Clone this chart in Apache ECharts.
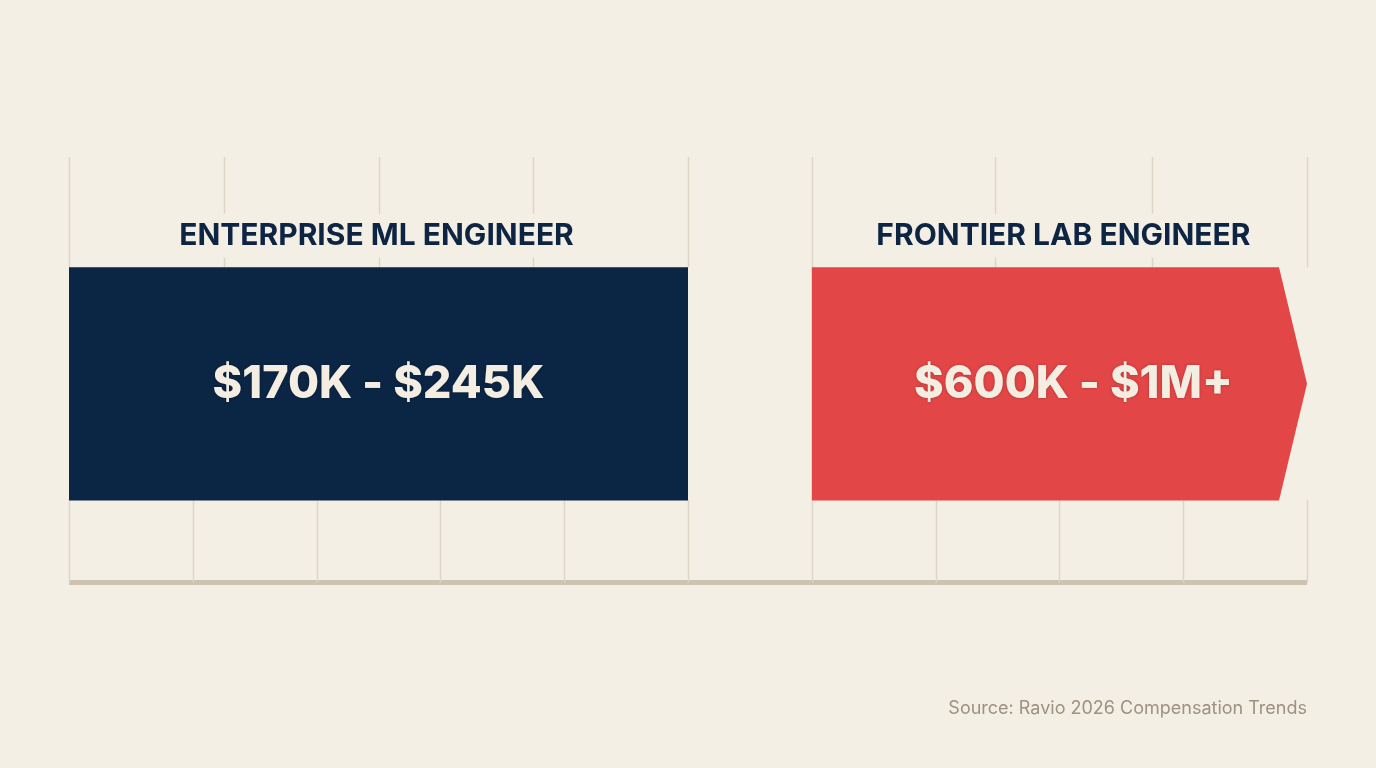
<!DOCTYPE html>
<html><head><meta charset="utf-8">
<script src="https://cdn.jsdelivr.net/npm/echarts@6/dist/echarts.min.js"></script>
<style>html,body{margin:0;padding:0;background:#f3efe4;} #c{width:1376px;height:768px;}</style>
</head><body><div id="c"></div>
<script>
// ---- data ----
const categories = ['ENTERPRISE ML ENGINEER', 'FRONTIER LAB ENGINEER'];
const rangeLabels = ['$170K - $245K', '$600K - $1M+'];
const salaryLow = [170, 600];    // $K
const salaryHigh = [245, 1000];  // $K (open-ended "1M+")
const openEnded = [false, true];
const barStart = [0, 6];         // position on the decorative axis
const barEnd = [5, 10];
const bottomTicks = [0, 1, 2, 3, 4, 5, 6, 7, 8, 9, 10];
const topTicks = [0, 1.25, 2.5, 3.75, 5, 6, 7.48, 8.75, 10];
const sourceText = 'Source: Ravio 2026 Compensation Trends';

// ---- styling / layout constants ----
const BG = '#f3efe4';
const barColors = ['#0b2545', '#e34646'];
const GRID_COLOR = '#ddd5c5';
const BAR_BOTTOM = 19.3, BAR_TOP = 74.1, TITLE_Y = 81.5, TOP = 100;
const ARROW = 28;
const FONT = 'Inter, "Noto Sans", sans-serif';

const chart = echarts.init(document.getElementById('c'), null, {renderer: 'canvas'});

function lineItem(y0, y1) {
  return function (params, api) {
    const t = api.value(0);
    const a = api.coord([t, y0]);
    const b = api.coord([t, y1]);
    return {type: 'line', shape: {x1: Math.round(a[0]) + 0.5, y1: a[1], x2: Math.round(b[0]) + 0.5, y2: b[1]},
            style: {stroke: GRID_COLOR, lineWidth: 1.5}};
  };
}

const barData = categories.map((c, i) => [barStart[i], barEnd[i], i]);

chart.setOption({
  backgroundColor: BG,
  animation: false,
  grid: {left: 69, right: 69, top: 157, bottom: 185.5},
  xAxis: {type: 'value', min: 0, max: 10, interval: 1,
    axisLine: {show: true, lineStyle: {color: '#cec3b1', width: 5, cap: 'butt'}},
    axisTick: {show: false}, axisLabel: {show: false}, splitLine: {show: false}},
  yAxis: {type: 'value', min: 0, max: TOP, show: false, splitLine: {show: false}},
  series: [
    {type: 'custom', z: 1, data: bottomTicks.map(t => [t]), renderItem: lineItem(0, BAR_BOTTOM), silent: true},
    {type: 'custom', z: 1, data: topTicks.map(t => [t]), renderItem: lineItem(BAR_TOP, TOP), silent: true},
    {type: 'custom', z: 3, data: barData, silent: true,
      renderItem: function (params, api) {
        const i = api.value(2);
        const p0 = api.coord([api.value(0), BAR_TOP]);
        const p1 = api.coord([api.value(1), BAR_BOTTOM]);
        const x0 = p0[0], x1 = p1[0], yt = p0[1], yb = p1[1], ym = (yt + yb) / 2;
        let pts;
        if (openEnded[i]) {
          pts = [[x0, yt], [x1 - ARROW, yt], [x1, ym], [x1 - ARROW, yb], [x0, yb]];
        } else {
          pts = [[x0, yt], [x1, yt], [x1, yb], [x0, yb]];
        }
        const cx = (x0 + x1) / 2 + (openEnded[i] ? ARROW / 2 : 0);
        const tp = api.coord([(api.value(0) + api.value(1)) / 2, TITLE_Y]);
        return {type: 'group', children: [
          {type: 'polygon', shape: {points: pts}, style: {fill: barColors[i]}},
          {type: 'text', x: cx, y: ym + 1, style: {
            text: rangeLabels[i], fill: '#f3ede2', align: 'center', verticalAlign: 'middle',
            font: '800 45px ' + FONT, textShadowColor: 'rgba(0,0,0,0.25)', textShadowBlur: 3}},
          {type: 'text', x: tp[0] + (openEnded[i] ? 4 : -2), y: tp[1], style: {
            text: categories[i], fill: '#0e2443', align: 'center', verticalAlign: 'middle',
            font: '700 30px ' + FONT, backgroundColor: BG, padding: [7, 6, 7, 6]}}
        ]};
      }}
  ],
  graphic: [{type: 'text', right: 69, top: 700, style: {text: sourceText, fill: '#9d917f', font: '400 18px ' + FONT}}]
});
</script></body></html>
